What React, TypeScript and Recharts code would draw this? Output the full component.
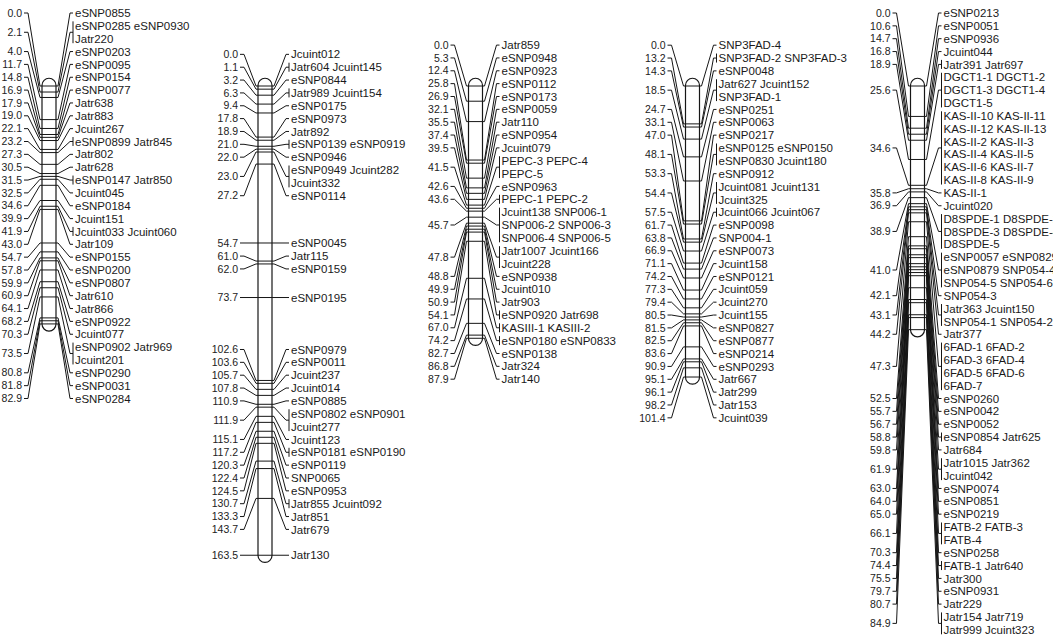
import { ComposedChart, XAxis, YAxis, Line, Scatter, ReferenceArea, Rectangle } from "recharts";

// linkage group 1
const lg1Pos = [0.0, 2.1, 4.0, 11.7, 14.8, 16.9, 17.9, 19.0, 22.1, 23.2, 27.3, 30.5, 31.5, 32.5, 34.6, 39.9, 41.9, 43.0, 54.7, 57.8, 59.9, 60.9, 64.1, 68.2, 70.3, 73.5, 80.8, 81.8, 82.9];
const lg1Markers = [
  ["eSNP0855"], ["eSNP0285", "eSNP0930", "Jatr220"], ["eSNP0203"], ["eSNP0095"], ["eSNP0154"], ["eSNP0077"],
  ["Jatr638"], ["Jatr883"], ["Jcuint267"], ["eSNP0899", "Jatr845"], ["Jatr802"], ["Jatr628"], ["eSNP0147", "Jatr850"],
  ["Jcuint045"], ["eSNP0184"], ["Jcuint151"], ["Jcuint033", "Jcuint060"], ["Jatr109"], ["eSNP0155"], ["eSNP0200"],
  ["eSNP0807"], ["Jatr610"], ["Jatr866"], ["eSNP0922"], ["Jcuint077"], ["eSNP0902", "Jatr969", "Jcuint201"],
  ["eSNP0290"], ["eSNP0031"], ["eSNP0284"],
];

// linkage group 2
const lg2Pos = [0.0, 1.1, 3.2, 6.3, 9.4, 17.8, 18.9, 21.0, 22.0, 23.0, 27.2, 54.7, 61.0, 62.0, 73.7, 102.6, 103.6, 105.7, 107.8, 110.9, 111.9, 115.1, 117.2, 120.3, 122.4, 124.5, 130.7, 133.3, 143.7, 163.5];
const lg2Markers = [
  ["Jcuint012"], ["Jatr604", "Jcuint145"], ["eSNP0844"], ["Jatr989", "Jcuint154"], ["eSNP0175"], ["eSNP0973"],
  ["Jatr892"], ["eSNP0139", "eSNP0919"], ["eSNP0946"], ["eSNP0949", "Jcuint282", "Jcuint332"], ["eSNP0114"],
  ["eSNP0045"], ["Jatr115"], ["eSNP0159"], ["eSNP0195"], ["eSNP0979"], ["eSNP0011"], ["Jcuint237"], ["Jcuint014"],
  ["eSNP0885"], ["eSNP0802", "eSNP0901", "Jcuint277"], ["Jcuint123"], ["eSNP0181", "eSNP0190"], ["eSNP0119"],
  ["SNP0065"], ["eSNP0953"], ["Jatr855", "Jcuint092"], ["Jatr851"], ["Jatr679"], ["Jatr130"],
];

// linkage group 3
const lg3Pos = [0.0, 5.3, 12.4, 25.8, 26.9, 32.1, 35.5, 37.4, 39.5, 41.5, 42.6, 43.6, 45.7, 47.8, 48.8, 49.9, 50.9, 54.1, 67.0, 74.2, 82.7, 86.8, 87.9];
const lg3Markers = [
  ["Jatr859"], ["eSNP0948"], ["eSNP0923"], ["eSNP0112"], ["eSNP0173"], ["eSNP0059"], ["Jatr110"], ["eSNP0954"],
  ["Jcuint079"], ["PEPC-3", "PEPC-4", "PEPC-5"], ["eSNP0963"], ["PEPC-1", "PEPC-2"],
  ["Jcuint138", "SNP006-1", "SNP006-2", "SNP006-3", "SNP006-4", "SNP006-5"], ["Jatr1007", "Jcuint166", "Jcuint228"],
  ["eSNP0938"], ["Jcuint010"], ["Jatr903"], ["eSNP0920", "Jatr698"], ["KASIII-1", "KASIII-2"],
  ["eSNP0180", "eSNP0833"], ["eSNP0138"], ["Jatr324"], ["Jatr140"],
];

// linkage group 4
const lg4Pos = [0.0, 13.2, 14.3, 18.5, 24.7, 33.1, 47.0, 48.1, 53.3, 54.4, 57.5, 61.7, 63.8, 66.9, 71.1, 74.2, 77.3, 79.4, 80.5, 81.5, 82.5, 83.6, 90.9, 95.1, 96.1, 98.2, 101.4];
const lg4Markers = [
  ["SNP3FAD-4"], ["SNP3FAD-2", "SNP3FAD-3"], ["eSNP0048"], ["Jatr627", "Jcuint152", "SNP3FAD-1"], ["eSNP0251"],
  ["eSNP0063"], ["eSNP0217"], ["eSNP0125", "eSNP0150", "eSNP0830", "Jcuint180"], ["eSNP0912"],
  ["Jcuint081", "Jcuint131", "Jcuint325"], ["Jcuint066", "Jcuint067"], ["eSNP0098"], ["SNP004-1"], ["eSNP0073"],
  ["Jcuint158"], ["eSNP0121"], ["Jcuint059"], ["Jcuint270"], ["Jcuint155"], ["eSNP0827"], ["eSNP0877"],
  ["eSNP0214"], ["eSNP0293"], ["Jatr667"], ["Jatr299"], ["Jatr153"], ["Jcuint039"],
];

// linkage group 5
const lg5Pos = [0.0, 10.6, 14.7, 16.8, 18.9, 25.6, 34.6, 35.8, 36.9, 38.9, 41.0, 42.1, 43.1, 44.2, 47.3, 52.5, 55.7, 56.7, 58.8, 59.8, 61.9, 63.0, 64.0, 65.0, 66.1, 70.3, 74.4, 75.5, 79.7, 80.7, 84.9];
const lg5Markers = [
  ["eSNP0213"], ["eSNP0051"], ["eSNP0936"], ["Jcuint044"], ["Jatr391", "Jatr697"],
  ["DGCT1-1", "DGCT1-2", "DGCT1-3", "DGCT1-4", "DGCT1-5"],
  ["KAS-II-10", "KAS-II-11", "KAS-II-12", "KAS-II-13", "KAS-II-2", "KAS-II-3", "KAS-II-4", "KAS-II-5", "KAS-II-6", "KAS-II-7", "KAS-II-8", "KAS-II-9"],
  ["KAS-II-1"], ["Jcuint020"], ["D8SPDE-1", "D8SPDE-2", "D8SPDE-3", "D8SPDE-4", "D8SPDE-5"],
  ["eSNP0057", "eSNP0829", "eSNP0879", "SNP054-4", "SNP054-5", "SNP054-6"], ["SNP054-3"],
  ["Jatr363", "Jcuint150", "SNP054-1", "SNP054-2"], ["Jatr377"],
  ["6FAD-1", "6FAD-2", "6FAD-3", "6FAD-4", "6FAD-5", "6FAD-6", "6FAD-7"], ["eSNP0260"], ["eSNP0042"], ["eSNP0052"],
  ["eSNP0854", "Jatr625"], ["Jatr684"], ["Jatr1015", "Jatr362", "Jcuint042"], ["eSNP0074"], ["eSNP0851"],
  ["eSNP0219"], ["FATB-2", "FATB-3", "FATB-4"], ["eSNP0258"], ["FATB-1", "Jatr640"], ["Jatr300"], ["eSNP0931"],
  ["Jatr229"], ["Jatr154", "Jatr719", "Jatr999", "Jcuint323"],
];

const groups = [
  { pos: lg1Pos, markers: lg1Markers },
  { pos: lg2Pos, markers: lg2Markers },
  { pos: lg3Pos, markers: lg3Markers },
  { pos: lg4Pos, markers: lg4Markers },
  { pos: lg5Pos, markers: lg5Markers },
];

const W = 1053;
const H = 638;
const PX_PER_CM = 2.87;
const ZERO_PX = 86;
// horizontal slot of each linkage group (x axis runs in page pixels)
const GROUP_SLOTS = [49, 265, 475.5, 692.5, 917.5];
const ROW = 12.85 / PX_PER_CM; // label row height in cM
const MIN_TOP = (13 - ZERO_PX) / PX_PER_CM;

const X_DOMAIN = [0, W];
const Y_DOMAIN = [-ZERO_PX / PX_PER_CM, (H - ZERO_PX) / PX_PER_CM];

const INK = "#161616";
const FONT = "'Liberation Sans', Arial, Helvetica, sans-serif";

function chunk(list: string[], n: number) {
  const out: string[][] = [];
  for (let i = 0; i < list.length; i += n) out.push(list.slice(i, i + n));
  return out;
}

// spread label blocks so rows don't overlap; a crowded run of labels is centred
// on the midpoint of the positions it covers
function layoutBlocks(pos: number[], markers: string[][]) {
  const blocks = pos.map((p, i) => ({ p, rows: chunk(markers[i], 2), markers: markers[i] }));
  type Cl = { idx: number[]; top: number; n: number };
  const solve = (cl: Cl) => {
    cl.n = cl.idx.reduce((s, j) => s + blocks[j].rows.length, 0);
    const mid = (blocks[cl.idx[0]].p + blocks[cl.idx[cl.idx.length - 1]].p) / 2;
    cl.top = mid - ((cl.n - 1) / 2) * ROW;
  };
  const clusters: Cl[] = [];
  blocks.forEach((_, j) => {
    const cl: Cl = { idx: [j], top: 0, n: 0 };
    solve(cl);
    clusters.push(cl);
    while (clusters.length > 1) {
      const a = clusters[clusters.length - 2];
      const b = clusters[clusters.length - 1];
      if (a.top + a.n * ROW > b.top + 1e-6) {
        const m: Cl = { idx: [...a.idx, ...b.idx], top: 0, n: 0 };
        solve(m);
        clusters.splice(clusters.length - 2, 2, m);
      } else break;
    }
  });
  let prevBottom = -Infinity;
  const placed: { p: number; markers: string[]; rows: string[][]; rowY: number[]; center: number }[] = [];
  clusters.forEach((cl) => {
    const top = Math.max(cl.top, MIN_TOP, prevBottom + ROW);
    let off = 0;
    cl.idx.forEach((j) => {
      const b = blocks[j];
      const rowY = b.rows.map((_, k) => top + (off + k) * ROW);
      placed.push({ ...b, rowY, center: top + (off + (b.rows.length - 1) / 2) * ROW });
      off += b.rows.length;
    });
    prevBottom = top + (cl.n - 1) * ROW;
  });
  return placed;
}

type Pt = { x: number; y: number | null; text?: string };

function buildGroup(c: number, pos: number[], markers: string[][]) {
  const blocks = layoutBlocks(pos, markers);
  const bands: Pt[] = [];
  const left: Pt[] = [];
  const right: Pt[] = [];
  const leftText: Pt[] = [];
  const rightText: Pt[] = [];
  blocks.forEach((b) => {
    bands.push({ x: c - 7, y: b.p }, { x: c + 7, y: b.p }, { x: c, y: null });
    left.push(
      { x: c - 25, y: b.center },
      { x: c - 21, y: b.center },
      { x: c - 9, y: b.p },
      { x: c - 7, y: b.p },
      { x: c, y: null }
    );
    right.push(
      { x: c + 7, y: b.p },
      { x: c + 9, y: b.p },
      { x: c + 21, y: b.center },
      { x: c + 24, y: b.center },
      { x: c, y: null }
    );
    if (b.markers.length > 1) {
      right.push(
        { x: c + 24, y: b.rowY[0] - 0.35 * ROW },
        { x: c + 24, y: b.rowY[b.rowY.length - 1] + 0.35 * ROW },
        { x: c, y: null }
      );
    }
    leftText.push({ x: c - 27, y: b.center, text: b.p.toFixed(1) });
    b.rows.forEach((r, k) => rightText.push({ x: c + 26, y: b.rowY[k], text: r.join(" ") }));
  });
  const top = Math.min(...pos) - 2.7;
  const bottom = Math.max(...pos) + 2.5;
  return { c, bands, left, right, leftText, rightText, top, bottom };
}

const built = groups.map((g, i) => buildGroup(GROUP_SLOTS[i], g.pos, g.markers));

const NumberLabel = (p: any) => (
  <text x={p.cx} y={p.cy} dy="0.35em" textAnchor="end" fontSize={10.5} fontFamily={FONT} fill="#222">
    {p.payload.text}
  </text>
);

const NameLabel = (p: any) => (
  <text x={p.cx} y={p.cy} dy="0.36em" textAnchor="start" fontSize={11.5} fontFamily={FONT} fill="#1a1a1a">
    {p.payload.text}
  </text>
);

export default function App() {
  return (
    <div style={{ position: "absolute", left: 0, top: 0, background: "#fff" }}>
      <ComposedChart width={W} height={H} margin={{ top: 0, right: 0, bottom: 0, left: 0 }}>
        <XAxis type="number" dataKey="x" domain={X_DOMAIN} allowDataOverflow hide />
        <YAxis type="number" dataKey="y" domain={Y_DOMAIN} allowDataOverflow reversed hide />
        {built.map((g) => (
          <ReferenceArea
            key={`bar${g.c}`}
            x1={g.c - 7}
            x2={g.c + 7}
            y1={g.top}
            y2={g.bottom}
            fill="none"
            fillOpacity={1}
            stroke={INK}
            strokeWidth={1.2}
            ifOverflow="visible"
            shape={(p: any) => <Rectangle {...p} fill="none" radius={7} />}
          />
        ))}
        {built.map((g) => (
          <Line key={`bands${g.c}`} data={g.bands} dataKey="y" type="linear" stroke={INK} strokeWidth={1}
            dot={false} activeDot={false} connectNulls={false} isAnimationActive={false} />
        ))}
        {built.map((g) => (
          <Line key={`left${g.c}`} data={g.left} dataKey="y" type="linear" stroke={INK} strokeWidth={1}
            dot={false} activeDot={false} connectNulls={false} isAnimationActive={false} />
        ))}
        {built.map((g) => (
          <Line key={`right${g.c}`} data={g.right} dataKey="y" type="linear" stroke={INK} strokeWidth={1}
            dot={false} activeDot={false} connectNulls={false} isAnimationActive={false} />
        ))}
        {built.map((g) => (
          <Scatter key={`lt${g.c}`} data={g.leftText} dataKey="y" shape={NumberLabel} isAnimationActive={false} />
        ))}
        {built.map((g) => (
          <Scatter key={`rt${g.c}`} data={g.rightText} dataKey="y" shape={NameLabel} isAnimationActive={false} />
        ))}
      </ComposedChart>
    </div>
  );
}
